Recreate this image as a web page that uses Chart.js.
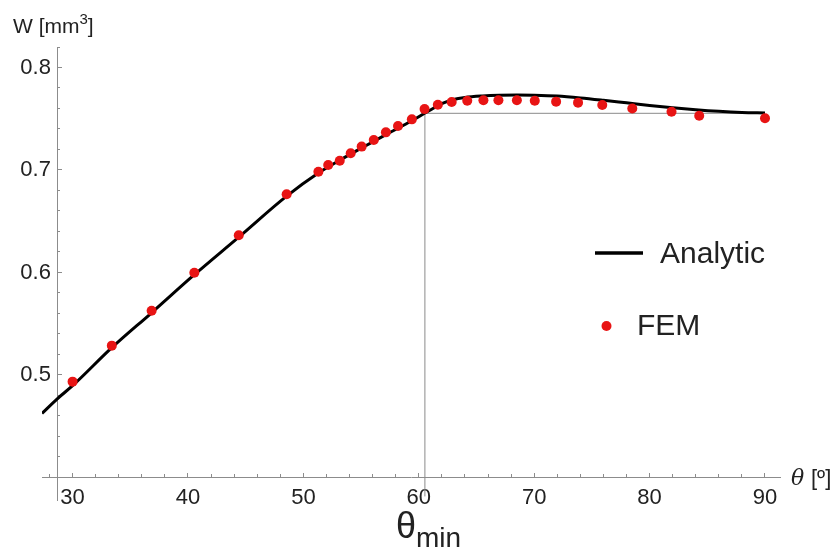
<!DOCTYPE html>
<html>
<head>
<meta charset="utf-8">
<script src="https://cdn.jsdelivr.net/npm/chart.js@4.4.1/dist/chart.umd.min.js"></script>
<style>
    html, body { margin: 0; padding: 0; background: #fff; }
    #wrap { width: 836px; height: 551px; position: relative; }
</style>
</head>
<body>
<div id="wrap"><canvas id="chart"></canvas></div>
<script>
// FEM results
const femTheta = [30, 33.4, 36.85, 40.55, 44.4, 48.55, 51.3, 52.15, 53.15, 54.1, 55.05, 56.1, 57.15, 58.2, 59.4,
    60.5, 61.65, 62.85, 64.2, 65.6, 66.9, 68.5, 70.05, 71.9, 73.8, 75.9, 78.5, 81.9, 84.3, 90];
const femW = [0.4935, 0.5286, 0.5627, 0.5998, 0.6363, 0.6763, 0.6983, 0.7049, 0.709, 0.7163, 0.7228, 0.7293, 0.7367, 0.743, 0.7494,
    0.7594, 0.7637, 0.7664, 0.7676, 0.768, 0.768, 0.768, 0.7676, 0.7667, 0.7657, 0.7634, 0.760, 0.7569, 0.753, 0.7504];

// Analytic curve
const analyticTheta = [27.35, 28.65, 30, 33.4, 36.85, 40.55, 44.4, 48.55, 51.3, 53.15, 55.05, 57.15, 59.4, 60.5,
    61.3, 62.1, 63, 64, 65.5, 67, 68.5, 70, 72, 74, 76, 78, 80, 82, 84, 86, 88, 90];
const analyticW = [0.4625, 0.4765, 0.4895, 0.5266, 0.5607, 0.5978, 0.6345, 0.6745, 0.697, 0.7095, 0.7215, 0.7345, 0.748, 0.7553,
    0.7605, 0.7652, 0.7688, 0.7708, 0.7722, 0.7729, 0.7731, 0.7729, 0.7721, 0.7703, 0.768, 0.7655, 0.763, 0.7608, 0.7588, 0.7572, 0.7561, 0.7556];

// theta_min guide lines
const guideTheta = [60.53, 60.53, 90];
const guideW = [0.3815, 0.7553, 0.7553];

const xMajorTicks = [30, 40, 50, 60, 70, 80, 90];
const yMajorTicks = [0.5, 0.6, 0.7, 0.8];

const toPoints = (xs, ys) => xs.map((x, i) => ({ x, y: ys[i] }));

const axisGray = '#8c8c8c';
const labelColor = '#222';
const fontFamily = "'Liberation Sans', Arial, sans-serif";

// Text that sits around the plot: axis names, legend, theta_min
const annotations = {
    id: 'annotations',
    afterDraw(chart) {
        const ctx = chart.ctx;
        ctx.save();
        ctx.fillStyle = labelColor;
        ctx.textBaseline = 'alphabetic';
        ctx.textAlign = 'left';

        // W [mm3]
        ctx.font = `21px ${fontFamily}`;
        ctx.fillText('W [mm', 13, 33);
        let w = ctx.measureText('W [mm').width;
        ctx.font = `15px ${fontFamily}`;
        ctx.fillText('3', 13 + w, 24);
        const w3 = ctx.measureText('3').width;
        ctx.font = `21px ${fontFamily}`;
        ctx.fillText(']', 13 + w + w3, 33);

        // theta [o]
        ctx.font = `italic 22px 'DejaVu Serif', serif`;
        ctx.fillText('θ', 791, 485);
        ctx.font = `22px ${fontFamily}`;
        ctx.fillText('[º]', 811, 485);

        // theta_min
        const xMin = chart.scales.x.getPixelForValue(guideTheta[0]);
        ctx.font = `36px ${fontFamily}`;
        ctx.fillText('θ', xMin - 29, 538);
        const wt = ctx.measureText('θ').width;
        ctx.font = `28px ${fontFamily}`;
        ctx.fillText('min', xMin - 29 + wt, 547);

        // legend
        ctx.strokeStyle = '#000';
        ctx.lineWidth = 3.5;
        ctx.beginPath();
        ctx.moveTo(595, 253);
        ctx.lineTo(643, 253);
        ctx.stroke();
        ctx.font = `30px ${fontFamily}`;
        ctx.fillText('Analytic', 660, 263);

        ctx.fillStyle = '#e81414';
        ctx.beginPath();
        ctx.arc(606.5, 326, 5, 0, Math.PI * 2);
        ctx.fill();
        ctx.fillStyle = labelColor;
        ctx.fillText('FEM', 637, 335);
        ctx.restore();
    }
};

const ctx = document.getElementById('chart').getContext('2d');

new Chart(ctx, {
    type: 'scatter',
    data: {
        datasets: [
            {
                label: 'FEM',
                data: toPoints(femTheta, femW),
                backgroundColor: '#e81414',
                borderWidth: 0,
                pointRadius: 5,
                pointHoverRadius: 5,
                order: 0
            },
            {
                label: 'Analytic',
                data: toPoints(analyticTheta, analyticW),
                showLine: true,
                borderColor: '#000',
                borderWidth: 3,
                pointRadius: 0,
                cubicInterpolationMode: 'monotone',
                order: 1
            },
            {
                label: 'guide',
                data: toPoints(guideTheta, guideW),
                showLine: true,
                borderColor: '#8a8a8a',
                borderWidth: 1,
                pointRadius: 0,
                tension: 0,
                order: 2
            }
        ]
    },
    options: {
        responsive: true,
        maintainAspectRatio: false,
        animation: false,
        layout: {
            padding: { left: 42, top: 47, right: 56, bottom: 51 }
        },
        plugins: {
            legend: { display: false },
            tooltip: { enabled: false }
        },
        scales: {
            x: {
                type: 'linear',
                min: 27.35,
                max: 91.3,
                position: { y: 0.4 },
                afterBuildTicks: scale => {
                    scale.ticks = xMajorTicks.map(value => ({ value }));
                },
                grid: {
                    drawOnChartArea: false,
                    tickLength: -5,
                    tickColor: axisGray,
                    tickWidth: 1
                },
                border: { color: axisGray, width: 1 },
                ticks: {
                    color: labelColor,
                    padding: 12,
                    font: { family: fontFamily, size: 22 },
                    includeBounds: false
                }
            },
            xMinor: {
                type: 'linear',
                axis: 'x',
                min: 27.35,
                max: 91.3,
                position: { y: 0.4 },
                ticks: { stepSize: 2, display: false, includeBounds: false },
                grid: {
                    drawOnChartArea: false,
                    tickLength: -3,
                    tickColor: axisGray,
                    tickWidth: 1
                },
                border: { display: false }
            },
            y: {
                type: 'linear',
                min: 0.378,
                max: 0.82,
                position: { x: 28.65 },
                afterBuildTicks: scale => {
                    scale.ticks = yMajorTicks.map(value => ({ value }));
                },
                grid: {
                    drawOnChartArea: false,
                    tickLength: -5,
                    tickColor: axisGray,
                    tickWidth: 1
                },
                border: { color: axisGray, width: 1 },
                ticks: {
                    color: labelColor,
                    font: { family: fontFamily, size: 22 },
                    callback: value => value.toFixed(1) + ' '
                }
            },
            yMinor: {
                type: 'linear',
                axis: 'y',
                min: 0.378,
                max: 0.82,
                position: { x: 28.65 },
                afterBuildTicks: scale => {
                    scale.ticks = scale.ticks.filter(t => t.value > 0.41);
                },
                ticks: { stepSize: 0.02, display: false, includeBounds: false },
                grid: {
                    drawOnChartArea: false,
                    tickLength: -3,
                    tickColor: axisGray,
                    tickWidth: 1
                },
                border: { display: false }
            }
        }
    },
    plugins: [annotations]
});
</script>
</body>
</html>
